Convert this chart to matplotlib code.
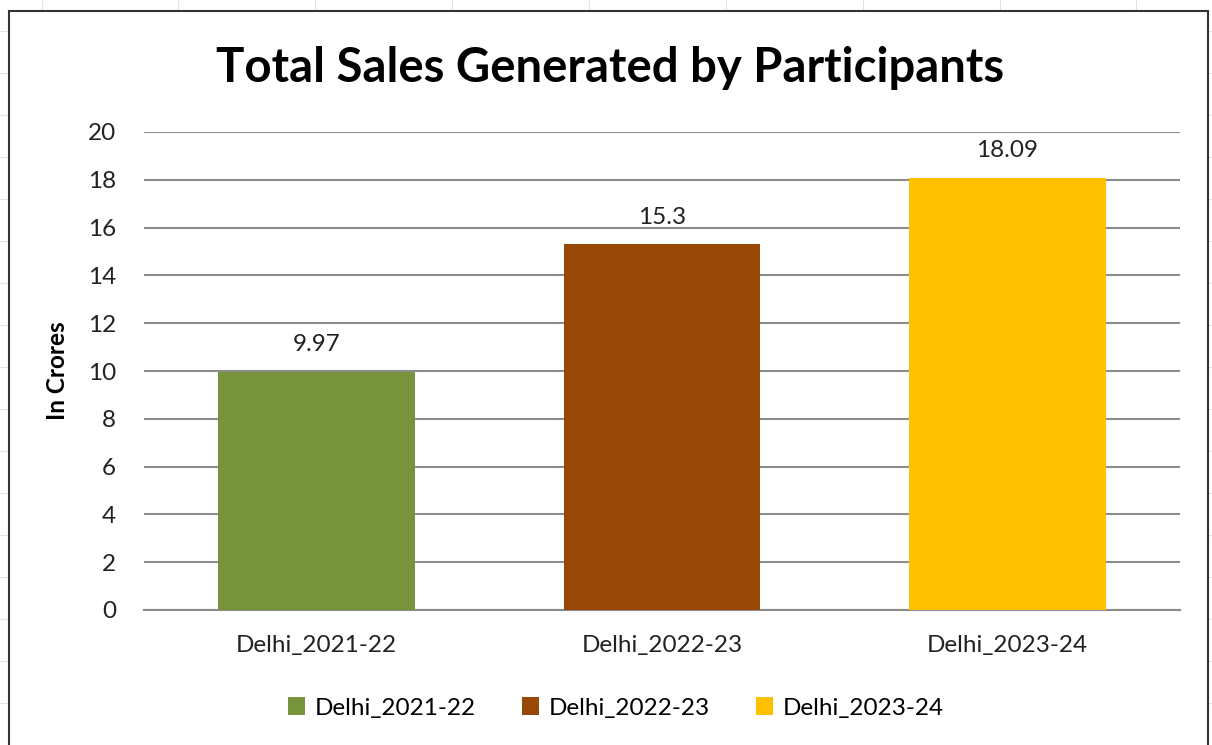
import matplotlib.pyplot as plt
from matplotlib.patches import Rectangle, Patch

categories = ["Delhi_2021-22", "Delhi_2022-23", "Delhi_2023-24"]
sales = [9.97, 15.3, 18.09]
value_labels = ["9.97", "15.3", "18.09"]
colors = ["#77933C", "#974806", "#FFC000"]
yticks = [0, 2, 4, 6, 8, 10, 12, 14, 16, 18, 20]

plt.rcParams["font.family"] = ["Lato", "DejaVu Sans"]

fig = plt.figure(figsize=(12.12, 7.45), dpi=100)

# faint spreadsheet grid behind the chart
for gx in [42, 178, 315, 452, 589, 726, 863, 1000, 1136]:
    fig.add_artist(plt.Line2D([gx / 1212, gx / 1212], [1, 0], color="#e3e3e3", lw=0.8, zorder=0))
for gy in [31, 73, 115, 157, 199, 241, 283, 325, 367, 409, 451, 493, 535, 577, 619, 661, 703]:
    fig.add_artist(plt.Line2D([0, 1], [1 - gy / 745, 1 - gy / 745], color="#e3e3e3", lw=0.8, zorder=0))

# chart area with border
fig.add_artist(Rectangle((9 / 1212, -0.01), (1208 - 9) / 1212, 1 - 11 / 745 + 0.01,
                         facecolor="white", edgecolor="#333333", lw=1.5, zorder=1,
                         transform=fig.transFigure))

ax = fig.add_axes([144 / 1212, 1 - 610 / 745, (1180 - 144) / 1212, (610 - 132) / 745])
ax.set_zorder(2)
ax.patch.set_alpha(0)

x = range(len(categories))
bars = ax.bar(x, sales, width=0.57, color=colors, zorder=3)
for b, lab in zip(bars, value_labels):
    ax.text(b.get_x() + b.get_width() / 2, b.get_height() + 0.7, lab,
            ha="center", va="bottom", fontsize=17.5, color="#222222")

ax.set_xlim(-0.5, 2.5)
ax.set_ylim(0, 20)
ax.set_yticks(yticks)
ax.set_xticks(list(x))
ax.set_xticklabels(categories)
ax.tick_params(axis="both", length=0, labelsize=17.5, colors="#222222")
ax.tick_params(axis="y", pad=20)
ax.tick_params(axis="x", pad=18)
ax.yaxis.grid(True, color="#8c8c8c", lw=1.5, zorder=0)
for s in ["top", "right", "left"]:
    ax.spines[s].set_visible(False)
ax.spines["bottom"].set_color("#8c8c8c")
ax.spines["bottom"].set_linewidth(1.5)

ax.set_ylabel("In Crores", fontsize=17.5, fontweight="bold", labelpad=14)
fig.text(610 / 1212, 1 - 68 / 745, "Total Sales Generated by Participants",
         ha="center", va="center", fontsize=34, fontweight="bold", zorder=3)

handles = [Patch(facecolor=c, label=l) for c, l in zip(colors, categories)]
fig.legend(handles=handles, loc="center", bbox_to_anchor=(616 / 1212, 1 - 708 / 745),
           ncol=3, frameon=False, fontsize=17.5, handlelength=0.7, handleheight=0.7,
           columnspacing=1.9, handletextpad=0.4)

fig.savefig("out.png", dpi=100)
